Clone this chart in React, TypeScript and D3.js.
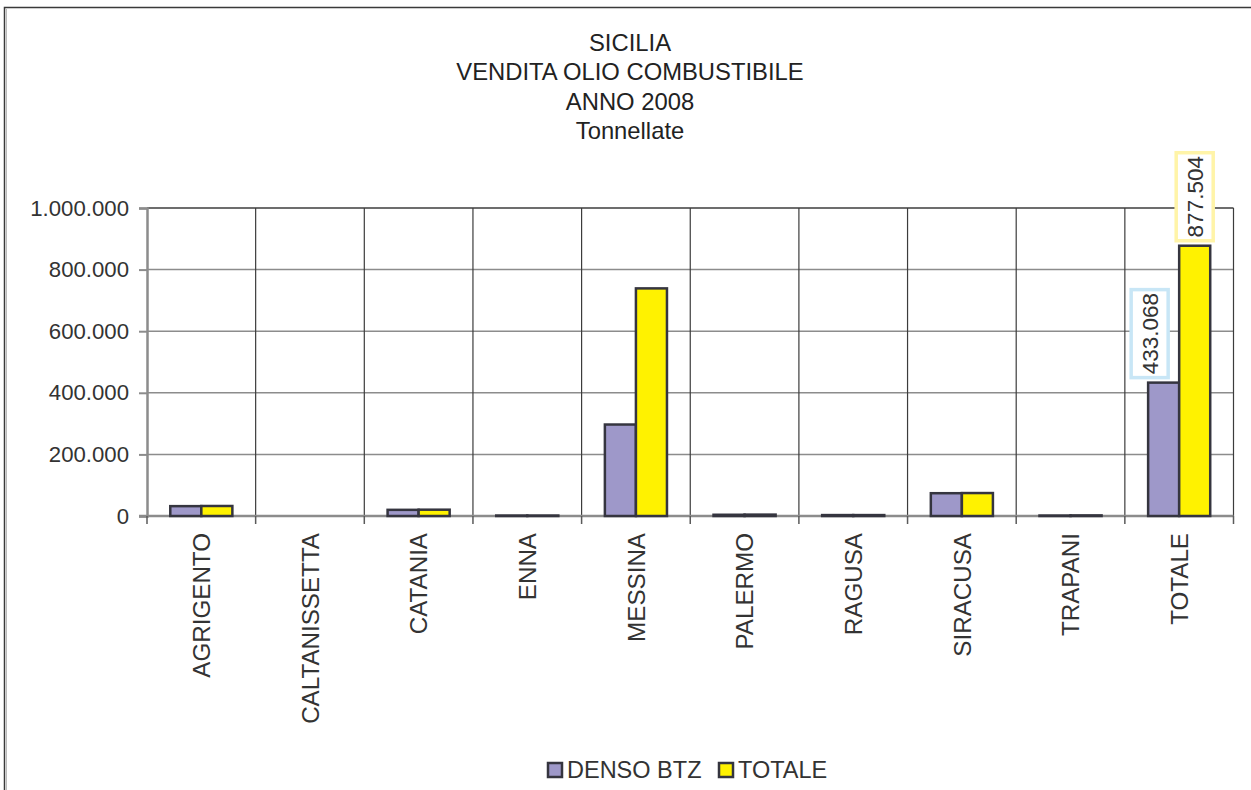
import { useEffect, useRef } from "react";
import * as d3 from "d3";

const categories = [
  "AGRIGENTO",
  "CALTANISSETTA",
  "CATANIA",
  "ENNA",
  "MESSINA",
  "PALERMO",
  "RAGUSA",
  "SIRACUSA",
  "TRAPANI",
  "TOTALE",
];
const densoBtz = [32000, 0, 20000, 1500, 297000, 4000, 3000, 74000, 1500, 433068];
const totale = [32500, 0, 20500, 1500, 739000, 4500, 3000, 74500, 2000, 877504];
const seriesNames = ["DENSO BTZ", "TOTALE"];
const yTicks = [0, 200000, 400000, 600000, 800000, 1000000];
const titleLines = ["SICILIA", "VENDITA OLIO COMBUSTIBILE", "ANNO 2008", "Tonnellate"];

const COLORS = ["#9e98c9", "#fff200"];
const LABEL_BORDERS = ["#c8e6f6", "#fff4a8"];
const INK = "#333333";
const FONT = "Liberation Sans, Arial, sans-serif";

export default function App() {
  const ref = useRef<SVGSVGElement | null>(null);

  useEffect(() => {
    const svg = d3.select(ref.current);
    svg.selectAll("*").remove();

    const W = 1251;
    const H = 790;
    // plot area in the picture
    const PLOT = { LEFT: 147, RIGHT: 1233.5, TOP: 208, BOTTOM: 516 };

    // outer chart frame (runs past the right and bottom edges)
    svg.append("rect")
      .attr("x", 4.5).attr("y", 7.5)
      .attr("width", W + 20).attr("height", H + 20)
      .attr("fill", "#fff")
      .attr("stroke", "#3a3a3a")
      .attr("stroke-width", 1.5);
    svg.append("line")
      .attr("x1", 6.5).attr("x2", 6.5).attr("y1", 9).attr("y2", H)
      .attr("stroke", "#bbb").attr("stroke-width", 1);

    // title
    svg.append("g")
      .selectAll("text")
      .data(titleLines)
      .join("text")
      .attr("x", 630)
      .attr("y", (_, i) => 51 + i * 29.4)
      .attr("text-anchor", "middle")
      .attr("font-family", FONT)
      .attr("font-size", 23.8)
      .attr("fill", "#222")
      .text(d => d);

    const x = d3.scaleBand<string>()
      .domain(categories)
      .range([PLOT.LEFT, PLOT.RIGHT]);

    const y = d3.scaleLinear()
      .domain([0, 1000000])
      .range([PLOT.BOTTOM, PLOT.TOP]);

    // bar layout: gap width 150%
    const bw = x.bandwidth();
    const barW = bw / 3.5;
    const inner = d3.scaleBand<number>()
      .domain([0, 1])
      .range([0.75 * barW, 0.75 * barW + 2 * barW]);

    // horizontal gridlines
    svg.append("g")
      .selectAll("line")
      .data(yTicks.filter(t => t > 0 && t < 1000000))
      .join("line")
      .attr("x1", PLOT.LEFT).attr("x2", PLOT.RIGHT)
      .attr("y1", d => y(d)).attr("y2", d => y(d))
      .attr("stroke", "#8c8c8c")
      .attr("stroke-width", 1.5);

    // vertical category separators
    const bounds = categories.map(c => x(c)!).concat([PLOT.RIGHT]);
    svg.append("g")
      .selectAll("line")
      .data(bounds.slice(1))
      .join("line")
      .attr("x1", d => d).attr("x2", d => d)
      .attr("y1", PLOT.TOP).attr("y2", PLOT.BOTTOM)
      .attr("stroke", "#3c3c3c")
      .attr("stroke-width", 1.2);

    // top border
    svg.append("line")
      .attr("x1", PLOT.LEFT).attr("x2", PLOT.RIGHT)
      .attr("y1", PLOT.TOP).attr("y2", PLOT.TOP)
      .attr("stroke", "#3c3c3c").attr("stroke-width", 1.5);

    // y axis
    const yAxis = d3.axisLeft(y)
      .tickValues(yTicks)
      .tickSize(8)
      .tickPadding(10)
      .tickFormat(d => d3.format(",")(d as number).replace(/,/g, "."));
    const yg = svg.append("g")
      .attr("transform", `translate(${PLOT.LEFT},0)`)
      .call(yAxis);
    yg.select(".domain").attr("stroke", "#8c8c8c").attr("stroke-width", 2.5);
    yg.selectAll(".tick line").attr("stroke", "#8c8c8c").attr("stroke-width", 2);
    yg.selectAll(".tick text")
      .attr("font-family", FONT)
      .attr("font-size", 22.2)
      .attr("fill", INK);

    // x baseline + ticks
    svg.append("line")
      .attr("x1", PLOT.LEFT - 8).attr("x2", PLOT.RIGHT)
      .attr("y1", PLOT.BOTTOM).attr("y2", PLOT.BOTTOM)
      .attr("stroke", "#8c8c8c").attr("stroke-width", 2.5);
    svg.append("g")
      .selectAll("line")
      .data(bounds)
      .join("line")
      .attr("x1", d => d).attr("x2", d => d)
      .attr("y1", PLOT.BOTTOM).attr("y2", PLOT.BOTTOM + 8)
      .attr("stroke", "#5a5a5a")
      .attr("stroke-width", 1.5);

    // category labels, rotated
    svg.append("g")
      .selectAll("text")
      .data(categories)
      .join("text")
      .attr("transform", d => `translate(${x(d)! + bw / 2},533) rotate(-90)`)
      .attr("text-anchor", "end")
      .attr("dy", "0.36em")
      .attr("font-family", FONT)
      .attr("font-size", 24.2)
      .attr("fill", INK)
      .text(d => d);

    // bars
    const series = [densoBtz, totale];
    series.forEach((vals, s) => {
      svg.append("g")
        .selectAll("rect")
        .data(vals)
        .join("rect")
        .attr("x", (_, i) => x(categories[i])! + inner(s)!)
        .attr("y", d => y(d))
        .attr("width", inner.bandwidth())
        .attr("height", d => y(0) - y(d))
        .attr("fill", COLORS[s])
        .attr("stroke", "#35353f")
        .attr("stroke-width", 2.5);
    });

    // data labels on TOTALE category
    const fmt = (v: number) => d3.format(",")(v).replace(/,/g, ".");
    const last = categories.length - 1;
    const labelOffsets = [-14, 0];
    series.forEach((vals, s) => {
      const v = vals[last];
      const cx = x(categories[last])! + inner(s)! + inner.bandwidth() / 2 + labelOffsets[s];
      const boxH = 88;
      const boxW = 37;
      const cy = y(v) - 5 - boxH / 2;
      const g = svg.append("g").attr("transform", `translate(${cx},${cy}) rotate(-90)`);
      g.append("rect")
        .attr("x", -boxH / 2).attr("y", -boxW / 2)
        .attr("width", boxH).attr("height", boxW)
        .attr("fill", "#fff")
        .attr("stroke", LABEL_BORDERS[s])
        .attr("stroke-width", 3.5);
      g.append("text")
        .attr("text-anchor", "middle")
        .attr("dy", "0.36em")
        .attr("font-family", FONT)
        .attr("font-size", 22.5)
        .attr("fill", INK)
        .text(fmt(v));
    });

    // legend
    const legendX = [548, 719];
    const lg = svg.append("g");
    seriesNames.forEach((name, i) => {
      lg.append("rect")
        .attr("x", legendX[i]).attr("y", 763)
        .attr("width", 14).attr("height", 14)
        .attr("fill", COLORS[i])
        .attr("stroke", "#35353f")
        .attr("stroke-width", 2.5);
      lg.append("text")
        .attr("x", legendX[i] + 19)
        .attr("y", 778)
        .attr("font-family", FONT)
        .attr("font-size", 23.5)
        .attr("fill", INK)
        .text(name);
    });
  }, []);

  return (
    <div style={{ position: "absolute", left: 0, top: 0 }}>
      <svg ref={ref} width={1251} height={790} style={{ display: "block" }} />
    </div>
  );
}
